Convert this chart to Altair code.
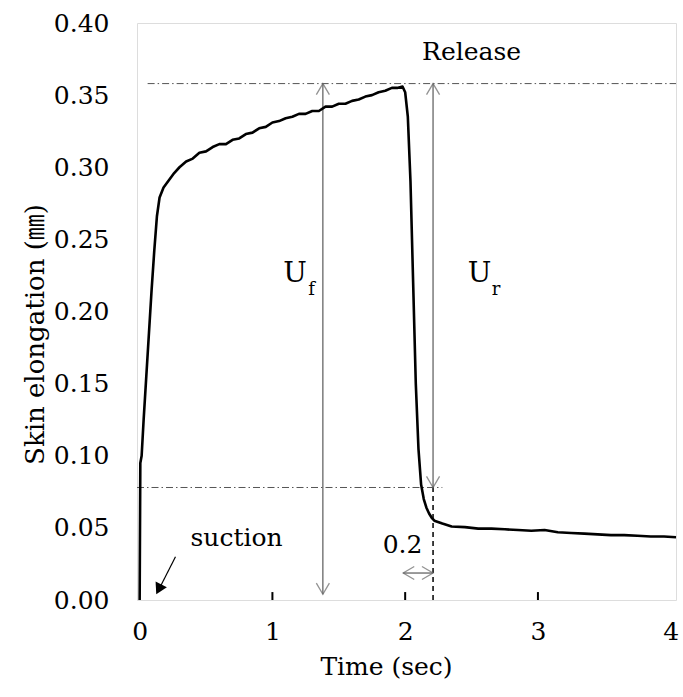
import altair as alt
import pandas as pd

# Skin elongation trace (mm) vs time (s): suction phase, then release at ~2 s
time_s = [0.0, 0.005, 0.015, 0.03, 0.05, 0.07, 0.09, 0.11, 0.13, 0.15, 0.18, 0.22, 0.26,
          0.30, 0.35, 0.40, 0.45, 0.50, 0.55, 0.60, 0.65, 0.70, 0.75, 0.80, 0.85, 0.90,
          0.95, 1.00, 1.05, 1.10, 1.15, 1.20, 1.25, 1.30, 1.35, 1.40, 1.45, 1.50, 1.55,
          1.60, 1.65, 1.70, 1.75, 1.80, 1.85, 1.90, 1.94, 1.98, 2.00, 2.02, 2.04, 2.06,
          2.08, 2.10, 2.12, 2.14, 2.16, 2.18, 2.20, 2.22, 2.28, 2.35, 2.45, 2.55, 2.65,
          2.75, 2.85, 2.95, 3.05, 3.15, 3.25, 3.35, 3.45, 3.55, 3.65, 3.75, 3.85, 3.95, 4.04]
elongation = [0.0, 0.095, 0.100, 0.125, 0.155, 0.185, 0.215, 0.242, 0.266, 0.279, 0.286, 0.291,
              0.296, 0.300, 0.304, 0.306, 0.310, 0.311, 0.314, 0.316, 0.316, 0.319, 0.320,
              0.323, 0.324, 0.327, 0.328, 0.331, 0.332, 0.334, 0.335, 0.337, 0.337, 0.339,
              0.339, 0.342, 0.342, 0.344, 0.344, 0.346, 0.347, 0.349, 0.350, 0.352, 0.353,
              0.355, 0.355, 0.356, 0.352, 0.335, 0.290, 0.220, 0.150, 0.105, 0.080, 0.070,
              0.064, 0.060, 0.057, 0.055, 0.053, 0.051, 0.0505, 0.0495, 0.0495, 0.049, 0.0485,
              0.048, 0.0485, 0.047, 0.0465, 0.046, 0.0455, 0.045, 0.045, 0.0445, 0.044, 0.044,
              0.0435]

x_ticks = [0, 1, 2, 3, 4]
y_ticks = [0.0, 0.05, 0.10, 0.15, 0.20, 0.25, 0.30, 0.35, 0.40]

# Reference levels: peak before release and level 0.2 s after release
peak_level = 0.358
recovered_level = 0.078
release_time = 2.0
measure_time = 2.21
uf_time = 1.38

FONT = "DejaVu Serif, Noto Sans CJK JP"
X_DOM = [-0.02, 4.04]
Y_DOM = [0.0, 0.40]

curve_df = pd.DataFrame({"t": time_s, "u": elongation})

xs = alt.Scale(domain=X_DOM, nice=False, zero=False)
ys = alt.Scale(domain=Y_DOM, nice=False)

curve = alt.Chart(curve_df).mark_line(color="black", strokeWidth=2.6, strokeJoin="round").encode(
    x=alt.X("t:Q", scale=xs,
            axis=alt.Axis(values=x_ticks, format="d", title="Time (sec)", ticks=False, domain=False,
                          grid=False, labelFlush=False, labelFontSize=25, labelFont=FONT,
                          labelColor="black", labelPadding=19, titleFont=FONT, titleFontSize=25,
                          titleFontWeight="normal", titleColor="black", titleX=249, titleY=66,
                          titleBaseline="middle")),
    y=alt.Y("u:Q", scale=ys,
            axis=alt.Axis(values=y_ticks, format=".2f", title="Skin elongation (㎜)", ticks=False,
                          domain=False, grid=False, labelFontSize=25, labelFont=FONT,
                          labelColor="black", labelPadding=28, titleFont=FONT, titleFontSize=26,
                          titleFontWeight="normal", titleColor="black", titleAngle=-90,
                          titleX=-102, titleY=311, titleBaseline="middle", titleAlign="center")),
)

# Dash-dot guide lines at the peak and recovered levels
guides_df = pd.DataFrame({"x1": [0.06, -0.02], "x2": [4.04, 2.28], "y": [peak_level, recovered_level]})
guides = alt.Chart(guides_df).mark_rule(color="#555555", strokeWidth=1, strokeDash=[7, 3, 1.5, 3]).encode(
    x=alt.X("x1:Q", scale=xs), x2="x2:Q", y=alt.Y("y:Q", scale=ys))

# Vertical dashed marker 0.2 s after release
vdash_df = pd.DataFrame({"x": [measure_time], "y1": [0.0], "y2": [recovered_level]})
vdash = alt.Chart(vdash_df).mark_rule(color="black", strokeWidth=1.5, strokeDash=[5, 4]).encode(
    x=alt.X("x:Q", scale=xs), y=alt.Y("y1:Q", scale=ys), y2="y2:Q")

# Double-headed arrows: U_f, U_r and the 0.2 s interval
shafts_df = pd.DataFrame({
    "x1": [uf_time, measure_time, 1.985],
    "x2": [uf_time, measure_time, measure_time],
    "y1": [0.004, recovered_level, 0.0187],
    "y2": [peak_level, peak_level, 0.0187],
})
shafts = alt.Chart(shafts_df).mark_rule(color="#666666", strokeWidth=1.3).encode(
    x=alt.X("x1:Q", scale=xs), x2="x2:Q", y=alt.Y("y1:Q", scale=ys), y2="y2:Q")

UP = "M -1 1.7 L 0 0 L 1 1.7"
DOWN = "M -1 -1.7 L 0 0 L 1 -1.7"
LEFT = "M 1.7 -1 L 0 0 L 1.7 1"
RIGHT = "M -1.7 -1 L 0 0 L -1.7 1"
heads_df = pd.DataFrame({
    "x": [uf_time, uf_time, measure_time, measure_time, 1.985, measure_time],
    "y": [peak_level, 0.004, peak_level, recovered_level, 0.0187, 0.0187],
    "shape": [UP, DOWN, UP, DOWN, LEFT, RIGHT],
})
heads = alt.Chart(heads_df).mark_point(filled=False, color="#666666", strokeWidth=1.3, size=170).encode(
    x=alt.X("x:Q", scale=xs), y=alt.Y("y:Q", scale=ys), shape=alt.Shape("shape:N", scale=None))

# Inward x-axis tick marks
ticks_df = pd.DataFrame({"x": [1, 2, 3], "y1": [0.0] * 3, "y2": [0.0055] * 3})
xticks = alt.Chart(ticks_df).mark_rule(color="black", strokeWidth=2).encode(
    x=alt.X("x:Q", scale=xs), y=alt.Y("y1:Q", scale=ys), y2="y2:Q")

# "suction" pointer arrow
suc_line_df = pd.DataFrame({"x1": [0.27], "y1": [0.030], "x2": [0.16], "y2": [0.010]})
suc_line = alt.Chart(suc_line_df).mark_rule(color="black", strokeWidth=1.2).encode(
    x=alt.X("x1:Q", scale=xs), y=alt.Y("y1:Q", scale=ys), x2="x2:Q", y2="y2:Q")
suc_head_df = pd.DataFrame({"x": [0.15], "y": [0.0085]})
suc_head = alt.Chart(suc_head_df).mark_point(shape="triangle", filled=True, color="black", size=160,
                                             angle=207, opacity=1).encode(
    x=alt.X("x:Q", scale=xs), y=alt.Y("y:Q", scale=ys))

# Text annotations
labels_df = pd.DataFrame({
    "x": [2.50, 0.73, 1.98],
    "y": [0.380, 0.043, 0.038],
    "text": ["Release", "suction", "0.2"],
})
labels = alt.Chart(labels_df).mark_text(font=FONT, fontSize=25, color="black", baseline="middle",
                                        align="center").encode(
    x=alt.X("x:Q", scale=xs), y=alt.Y("y:Q", scale=ys), text="text:N")

u_df = pd.DataFrame({"x": [1.17, 2.56], "y": [0.226, 0.226], "text": ["U", "U"]})
u_text = alt.Chart(u_df).mark_text(font=FONT, fontSize=28, color="black", baseline="middle",
                                   align="center").encode(
    x=alt.X("x:Q", scale=xs), y=alt.Y("y:Q", scale=ys), text="text:N")

subs_df = pd.DataFrame({"x": [1.295, 2.685], "y": [0.215, 0.215], "text": ["f", "r"]})
subs = alt.Chart(subs_df).mark_text(font=FONT, fontSize=18, color="black", baseline="middle",
                                    align="center").encode(
    x=alt.X("x:Q", scale=xs), y=alt.Y("y:Q", scale=ys), text="text:N")

chart = alt.layer(guides, vdash, shafts, heads, xticks, suc_line, suc_head, curve, labels, u_text,
                  subs).properties(
    width=539, height=577,
    padding={"left": 137, "top": 23, "right": 7, "bottom": 97},
    autosize="none",
).configure_view(stroke="black", strokeWidth=2.5).configure(background="white")

chart.save("out.html", embed_options={"renderer": "svg", "actions": False})
